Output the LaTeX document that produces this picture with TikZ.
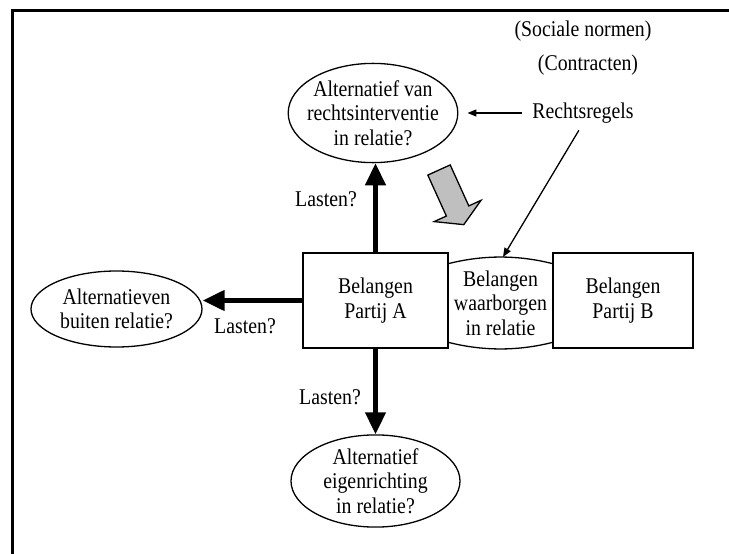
\documentclass[tikz,border=0pt]{standalone}
\usepackage{fontspec}
\setmainfont{Liberation Serif}[FakeStretch=0.88]
\usetikzlibrary{arrows.meta,shapes.geometric}

\tikzset{
  tekst/.style={font=\fontsize{22.5}{24.5}\selectfont, align=center, inner sep=0pt},
  alt/.style={tekst, draw, ellipse, line width=1.3pt},
  belang/.style={tekst, draw, rectangle, line width=1.3pt, minimum height=95pt},
  last/.style={line width=4.5pt, -{Triangle[length=22pt,width=20pt]}},
  wijs/.style={line width=1.3pt, -{Triangle[length=9pt,width=7pt]}}
}

\begin{document}
\begin{tikzpicture}[x=1pt,y=-1pt]
        \useasboundingbox (0,0) rectangle (729,554);
        % kader
        \draw[line width=3pt] (12.5,554) -- (12.5,10) -- (729,10);
        % bronnen
        \node[tekst] (sociaal) at (583,31) {(Sociale normen)};
        \node[tekst] (contract) at (588,65) {(Contracten)};
        \node[tekst] (regels) at (583,113) {Rechtsregels};
        % ellipsen
        \node[alt, inner xsep=-6pt, inner ysep=2.5pt, minimum width=162pt, minimum height=98pt] (altrecht) at (373,113) {Alternatief van\\rechtsinterventie\\in relatie?};
        \node[alt, minimum width=171pt, minimum height=76pt] (altbuiten) at (116.5,309) {Alternatieven\\buiten relatie?};
        \node[alt, minimum width=169pt, minimum height=92pt] (alteigen) at (375.5,481) {Alternatief\\eigenrichting\\in relatie?};
        % belangen
        \node[belang, minimum width=145pt] (partijA) at (375.5,300.5) {Belangen\\Partij A};
        \node[belang, minimum width=140pt] (partijB) at (623,300.5) {Belangen\\Partij B};
        \node[tekst, minimum width=105pt, minimum height=78pt] (waarborg) at (500.5,303) {Belangen\\waarborgen\\in relatie};
        \draw[line width=1.3pt] (waarborg.north west) .. controls +(35,-9) and +(-35,-9) .. (waarborg.north east);
        \draw[line width=1.3pt] (waarborg.south west) .. controls +(35,9) and +(-35,9) .. (waarborg.south east);
        \coordinate (waarborgtop) at (503,257);
        % lasten
        \draw[last] (partijA.north) -- (partijA.north |- altrecht.south);
        \draw[last] (partijA.west) -- (partijA.west -| altbuiten.east);
        \draw[last] (partijA.south) -- (partijA.south |- alteigen.north);
        \node[tekst] (lastenboven) at (326,199) {Lasten?};
        \node[tekst] (lastenlinks) at (245,326) {Lasten?};
        \node[tekst] (lastenonder) at (330,397) {Lasten?};
        % rechtsregels
        \draw[wijs, shorten <=10pt, shorten >=9pt] (regels.west) -- (regels.west -| altrecht.east);
        \draw[wijs, shorten <=8pt] (regels.south) -- (waarborgtop);
        % grijze pijl
        \draw[fill=gray!50, line width=1.3pt, line join=miter] [shift={(439,170)}, rotate=-65.6]
            (0,12.3) -- (45,12.3) -- (45,25.7) -- (60,0) -- (45,-25.7) -- (45,-12.3) -- (0,-12.3) -- cycle;
    \end{tikzpicture}
\end{document}
